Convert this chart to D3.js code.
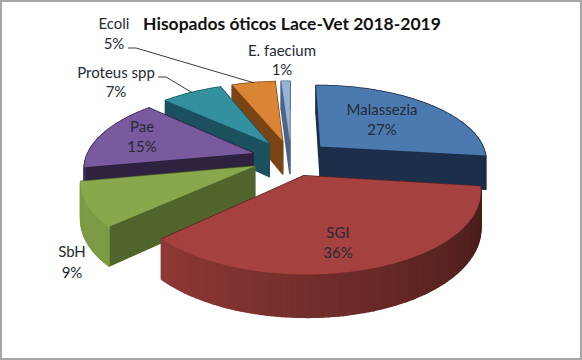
<!DOCTYPE html>
<html>
<head>
<meta charset="utf-8">
<script src="https://cdn.jsdelivr.net/npm/d3@7"></script>
<style>
  html, body { margin: 0; padding: 0; background: #fff; }
  svg { display: block; }
  text { font-family: Lato, "Open Sans", sans-serif; }
</style>
</head>
<body>
<div class="graph"></div>
<script>
const categories = ['Malassezia', 'SGI', 'SbH', 'Pae', 'Proteus spp', 'Ecoli', 'E. faecium']
const percents = [27, 36, 9, 15, 7, 5, 1]

const topColors = ['#4a7ab0', '#a54240', '#89a84b', '#7a5a9e', '#33919f', '#da8536', '#95b3d7']
const faceColors = ['#1b2f4a', '#5a2220', '#50652b', '#2f2140', '#1b515f', '#7a4415', '#4a6587']
const arcLight = ['#2b4a70', '#8f3936', '#7d9a45', '#3f2d57', '#1e5a6a', '#8a4d18', '#5a7ba3']
const arcDark = ['#1a2d47', '#431a18', '#6f8a3c', '#2e2040', '#1c4f5e', '#7a4415', '#4a6587']

// label anchor per category: [x, first line y, second line y]
const labelPos = [[382, 115, 135], [338, 238, 258], [72, 257, 278], [142, 132, 152],
  [116, 78, 97], [114, 29, 49], [282, 56, 75]]

const width = 582
const height = 360

// pie projection settings, fitted by eye against the picture
const cx = 291, cy = 158, rx = 167, ry = 75, depth = 34
const explode = 0.24, persp = 0.17

const svg = d3.select('.graph').append('svg')
  .attr('width', width)
  .attr('height', height)

svg.append('rect')
  .attr('x', 1).attr('y', 1)
  .attr('width', width - 2).attr('height', height - 2)
  .attr('fill', '#fff')
  .attr('stroke', '#a6a6a6')
  .attr('stroke-width', 2)

const arcs = d3.pie().sort(null).value(d => d)(percents)
  .map((d, i) => ({ ...d, i, mid: (d.startAngle + d.endAngle) / 2 }))

const line = d3.line()

function project (slice, angle, r, z) {
  const x = explode * Math.sin(slice.mid) + r * Math.sin(angle)
  const y = -explode * Math.cos(slice.mid) - r * Math.cos(angle)
  const s = 1 / (1 - persp * y)
  return [cx + rx * x * s, cy + ry * y * s + depth * z * s]
}

function rimAngles (slice) {
  const n = Math.max(2, Math.ceil((slice.endAngle - slice.startAngle) * 40))
  return d3.range(n + 1).map(k => slice.startAngle + (slice.endAngle - slice.startAngle) * k / n)
}

function worldY (slice, angle, r) {
  return -explode * Math.cos(slice.mid) - r * Math.cos(angle)
}

// back to front
const ordered = arcs.slice().sort((a, b) => -Math.cos(a.mid) + Math.cos(b.mid))

ordered.forEach(slice => {
  const g = svg.append('g').attr('class', 'slice')
  const angles = rimAngles(slice)

  const walls = []
  ;[slice.startAngle, slice.endAngle].forEach(a => {
    walls.push({
      y: worldY(slice, a, 0.5),
      fill: faceColors[slice.i],
      pts: [project(slice, 0, 0, 0), project(slice, a, 1, 0), project(slice, a, 1, 1), project(slice, 0, 0, 1)]
    })
  })

  const shade = d3.scaleLinear()
    .domain([Math.PI * 1.25, Math.PI * 0.55])
    .range([arcLight[slice.i], arcDark[slice.i]])
    .clamp(true)

  d3.pairs(angles).forEach(([a0, a1]) => {
    walls.push({
      y: worldY(slice, (a0 + a1) / 2, 1),
      fill: shade((a0 + a1) / 2),
      pts: [project(slice, a0, 1, 0), project(slice, a1, 1, 0), project(slice, a1, 1, 1), project(slice, a0, 1, 1)]
    })
  })

  walls.sort((a, b) => a.y - b.y).forEach(w => {
    g.append('path')
      .attr('d', line(w.pts) + 'Z')
      .attr('fill', w.fill)
      .attr('stroke', w.fill)
      .attr('stroke-width', 1.5)
      .attr('stroke-linejoin', 'round')
  })

  const top = [project(slice, 0, 0, 0)].concat(angles.map(a => project(slice, a, 1, 0)))
  g.append('path')
    .attr('d', line(top) + 'Z')
    .attr('fill', topColors[slice.i])
})

// leader lines for the two labels sitting away from their slices
const leaders = [[4, 158, 77, 166], [5, 128, 48, 136]]
leaders.forEach(([i, x0, y0, x1]) => {
  const end = project(arcs[i], arcs[i].mid, 1, 0)
  svg.append('path')
    .attr('d', line([[x0, y0], [x1, y0], end]))
    .attr('fill', 'none')
    .attr('stroke', '#3a3a3a')
    .attr('stroke-width', 1)
})

categories.forEach((name, i) => {
  const [x, y1, y2] = labelPos[i]
  const g = svg.append('g')
    .attr('text-anchor', 'middle')
    .attr('font-size', 15)
    .attr('fill', '#252a33')
  g.append('text').attr('x', x).attr('y', y1).text(name)
  g.append('text').attr('x', x).attr('y', y2).text(percents[i] + '%')
})

svg.append('text')
  .attr('x', 292)
  .attr('y', 30)
  .attr('text-anchor', 'middle')
  .attr('font-size', 17.5)
  .attr('font-weight', 700)
  .attr('fill', '#111')
  .text('Hisopados óticos Lace-Vet 2018-2019')
</script>
</body>
</html>
